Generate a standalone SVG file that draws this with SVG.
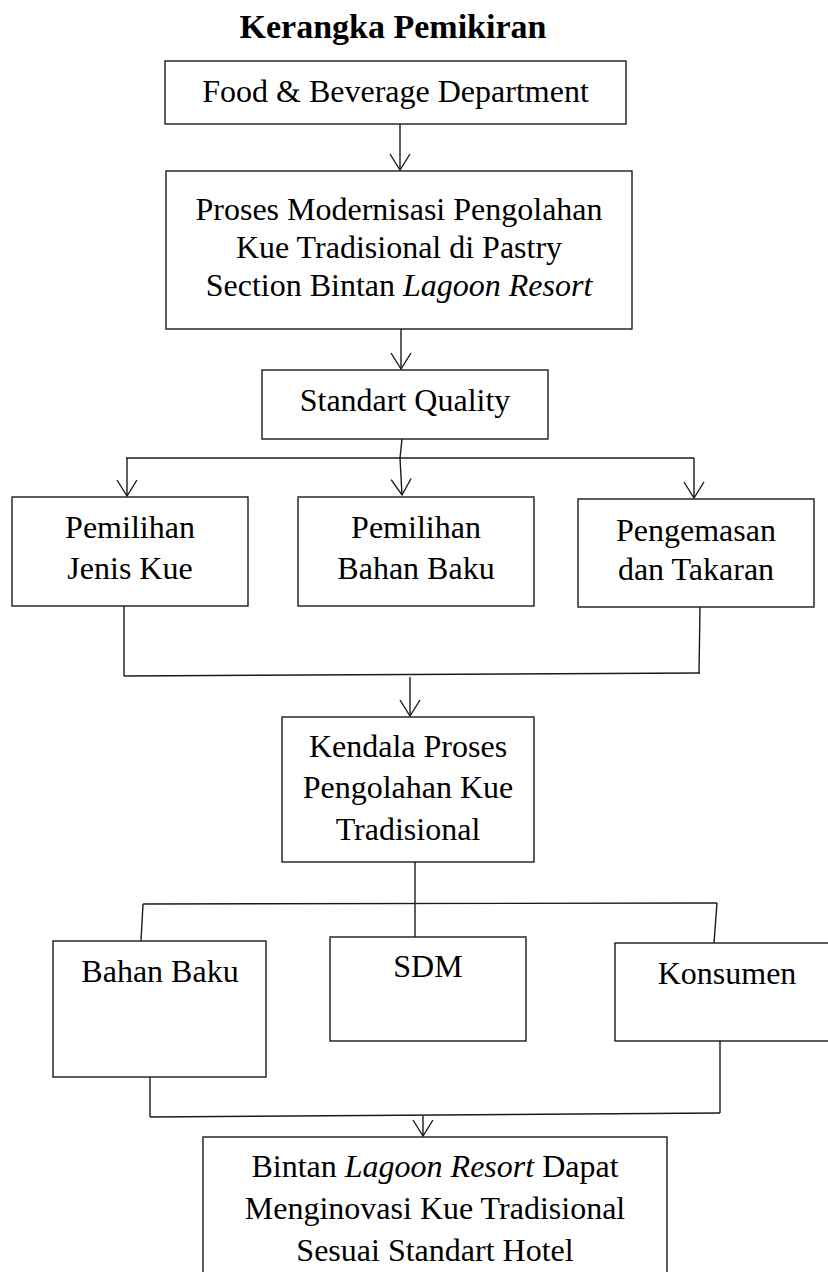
<svg xmlns="http://www.w3.org/2000/svg" width="828" height="1272" viewBox="0 0 828 1272">
<style>
  .box { fill: #fff; stroke: #1a1a1a; stroke-width: 1.4; }
  .t { font-family: "Liberation Serif", "Times New Roman", serif; font-size: 32px; fill: #000; text-anchor: middle; }
  .title { font-family: "Liberation Serif", "Times New Roman", serif; font-size: 34px; font-weight: bold; fill: #000; text-anchor: middle; }
  .i { font-style: italic; }
  .c { fill: none; stroke: #1a1a1a; stroke-width: 1.4; }
</style>
<defs>
  <marker id="arr" markerUnits="userSpaceOnUse" markerWidth="20" markerHeight="24" refX="0" refY="0" orient="auto" overflow="visible">
    <path d="M-16,-10 L0,0 L-16,10" fill="none" stroke="#1a1a1a" stroke-width="1.4"/>
  </marker>
</defs>
<rect width="828" height="1272" fill="#fff"/>
<text class="title" x="393" y="38">Kerangka Pemikiran</text>

<g id="connectors">
  <line class="c" x1="400" y1="124" x2="400" y2="170" marker-end="url(#arr)"/>
  <line class="c" x1="401" y1="329" x2="401" y2="369" marker-end="url(#arr)"/>
  <line class="c" x1="402" y1="439" x2="400" y2="458"/>
  <line class="c" x1="126" y1="458" x2="694" y2="458"/>
  <line class="c" x1="127" y1="458" x2="127" y2="496" marker-end="url(#arr)"/>
  <line class="c" x1="400" y1="458" x2="402" y2="495" marker-end="url(#arr)"/>
  <line class="c" x1="694" y1="458" x2="694" y2="498" marker-end="url(#arr)"/>
  <line class="c" x1="124" y1="606" x2="124" y2="676"/>
  <line class="c" x1="700" y1="607" x2="699" y2="673"/>
  <line class="c" x1="124" y1="676" x2="700" y2="673"/>
  <line class="c" x1="410" y1="677" x2="410" y2="716" marker-end="url(#arr)"/>
  <line class="c" x1="415" y1="862" x2="415" y2="937"/>
  <line class="c" x1="143" y1="904" x2="717" y2="903"/>
  <line class="c" x1="143" y1="904" x2="141" y2="941"/>
  <line class="c" x1="717" y1="903" x2="714" y2="943"/>
  <line class="c" x1="150" y1="1077" x2="150" y2="1117"/>
  <line class="c" x1="720" y1="1041" x2="720" y2="1113"/>
  <line class="c" x1="150" y1="1117" x2="720" y2="1113"/>
  <line class="c" x1="423" y1="1116" x2="423" y2="1136" marker-end="url(#arr)"/>
</g>

<g id="n1">
  <rect class="box" x="165" y="61" width="461" height="63"/>
  <text class="t" x="395.5" y="102">Food &amp; Beverage Department</text>
</g>
<g id="n2">
  <rect class="box" x="166" y="171" width="466" height="158"/>
  <text class="t" x="399" y="220">Proses Modernisasi Pengolahan</text>
  <text class="t" x="399" y="258">Kue Tradisional di Pastry</text>
  <text class="t" x="399" y="296">Section Bintan <tspan class="i">Lagoon Resort</tspan></text>
</g>
<g id="n3">
  <rect class="box" x="262" y="370" width="286" height="69"/>
  <text class="t" x="405" y="411">Standart Quality</text>
</g>
<g id="n4">
  <rect class="box" x="12" y="497" width="236" height="109"/>
  <text class="t" x="130" y="538">Pemilihan</text>
  <text class="t" x="130" y="579">Jenis Kue</text>
</g>
<g id="n5">
  <rect class="box" x="298" y="497" width="236" height="109"/>
  <text class="t" x="416" y="538">Pemilihan</text>
  <text class="t" x="416" y="579">Bahan Baku</text>
</g>
<g id="n6">
  <rect class="box" x="578" y="499" width="236" height="108"/>
  <text class="t" x="696" y="541">Pengemasan</text>
  <text class="t" x="696" y="580">dan Takaran</text>
</g>
<g id="n7">
  <rect class="box" x="282" y="717" width="252" height="145"/>
  <text class="t" x="408" y="757">Kendala Proses</text>
  <text class="t" x="408" y="798">Pengolahan Kue</text>
  <text class="t" x="408" y="840">Tradisional</text>
</g>
<g id="n8">
  <rect class="box" x="53" y="941" width="213" height="136"/>
  <text class="t" x="160" y="982">Bahan Baku</text>
</g>
<g id="n9">
  <rect class="box" x="330" y="937" width="196" height="104"/>
  <text class="t" x="428" y="977">SDM</text>
</g>
<g id="n10">
  <rect class="box" x="615" y="943" width="225" height="98"/>
  <text class="t" x="727" y="984">Konsumen</text>
</g>
<g id="n11">
  <rect class="box" x="203" y="1137" width="464" height="150"/>
  <text class="t" x="435" y="1177">Bintan <tspan class="i">Lagoon Resort</tspan> Dapat</text>
  <text class="t" x="435" y="1219">Menginovasi Kue Tradisional</text>
  <text class="t" x="435" y="1261">Sesuai Standart Hotel</text>
</g>
</svg>
